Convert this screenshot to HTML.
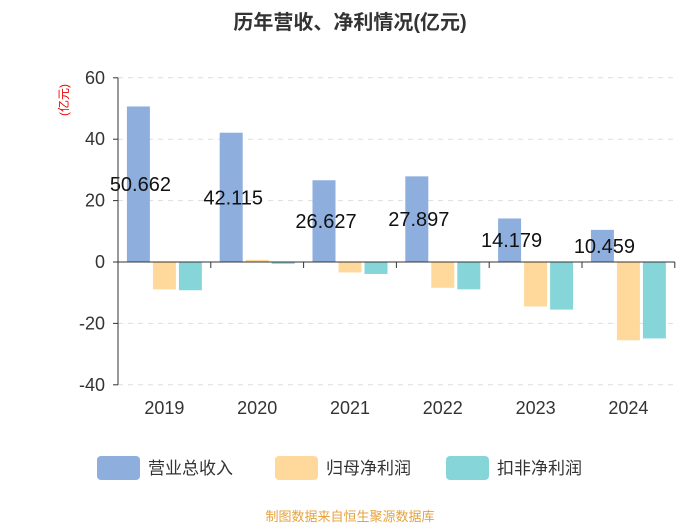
<!DOCTYPE html>
<html><head><meta charset="utf-8"><style>
body{margin:0;background:#fff;width:700px;height:525px;overflow:hidden;font-family:"Liberation Sans","Noto Sans CJK SC",sans-serif}
</style></head><body>
<svg id="c" width="700" height="525" xmlns="http://www.w3.org/2000/svg" style="font-family:'Liberation Sans','Noto Sans CJK SC',sans-serif">
<text x="350" y="29" text-anchor="middle" font-size="20" font-weight="bold" fill="#333">历年营收、净利情况(亿元)</text>
<text x="0" y="0" transform="translate(68,100) rotate(-90)" text-anchor="middle" font-size="12" fill="#e00">(亿元)</text>
<g id="grid"></g><g id="bars"></g><g id="axes"></g>
<g>
<rect x="97" y="456" width="43" height="24" rx="4" fill="#8eaedd"/>
<text x="148" y="474" font-size="17" fill="#333">营业总收入</text>
<rect x="275" y="456" width="43" height="24" rx="4" fill="#fed99b"/>
<text x="326" y="474" font-size="17" fill="#333">归母净利润</text>
<rect x="446" y="456" width="43" height="24" rx="4" fill="#86d6d9"/>
<text x="497" y="474" font-size="17" fill="#333">扣非净利润</text>
</g>
<text x="350" y="521" text-anchor="middle" font-size="13" fill="#e6a23c">制图数据来自恒生聚源数据库</text>
</svg>
<script>
const categories=["2019","2020","2021","2022","2023","2024"];
const revenue=[50.662,42.115,26.627,27.897,14.179,10.459];
const netProfit=[-8.9,0.7,-3.4,-8.4,-14.5,-25.5];
const deductedProfit=[-9.2,-0.6,-3.9,-8.9,-15.5,-24.9];
const yTicks=[60,40,20,0,-20,-40];
const NS="http://www.w3.org/2000/svg";
const x0=118,cw=92.8,bw=23;
function y(v){return 262-v*3.07;}
function cx(i){return x0+cw*(i+0.5);}
function mk(p,t,a){const e=document.createElementNS(NS,t);for(const k in a)e.setAttribute(k,a[k]);p.appendChild(e);return e;}
const grid=document.getElementById('grid'),bars=document.getElementById('bars'),axes=document.getElementById('axes');
yTicks.forEach(t=>{
 if(t!==0){const l=mk(grid,'line',{x1:x0,x2:675,y1:y(t),y2:y(t),stroke:'#ddd','stroke-dasharray':'5,5'});
 
 }
 const tk=mk(axes,'line',{x1:x0-5,x2:x0,y1:y(t),y2:y(t),stroke:'#333'});
 
 
 const tx=mk(axes,'text',{x:x0-13,y:y(t)+6,'text-anchor':'end','font-size':18,fill:'#333'});tx.textContent=t;
 
 
});
const ya=mk(axes,'line',{x1:x0,x2:x0,y1:y(60),y2:y(-40),stroke:'#333'});


const xa=mk(axes,'line',{x1:x0,x2:x0+cw*6,y1:y(0),y2:y(0),stroke:'#333'});


const series=[[revenue,'#8eaedd',-1,'revenue'],[netProfit,'#fed99b',0,'net-profit'],[deductedProfit,'#86d6d9',1,'deducted-profit']];
categories.forEach((c,i)=>{
 const tk=mk(axes,'line',{x1:x0+cw*(i+1),x2:x0+cw*(i+1),y1:y(0),y2:y(0)+6,stroke:'#333'});
 
 
 const lb=mk(axes,'text',{x:cx(i),y:414,'text-anchor':'middle','font-size':18,fill:'#333'});lb.textContent=c;
 
 
 series.forEach(s=>{
  const v=s[0][i],bx=cx(i)+s[2]*(bw+3)-bw/2;
  const r=mk(bars,'rect',{x:bx,width:bw,y:Math.min(y(v),y(0)),height:Math.abs(y(v)-y(0)),fill:s[1]});
  
  
 });
 const v=revenue[i];
 const t=mk(bars,'text',{x:cx(i)-24,y:(y(v)+y(0))/2+7,'text-anchor':'middle','font-size':20,fill:'#111'});t.textContent=v.toFixed(3);
 
 
});
</script>
</body></html>
